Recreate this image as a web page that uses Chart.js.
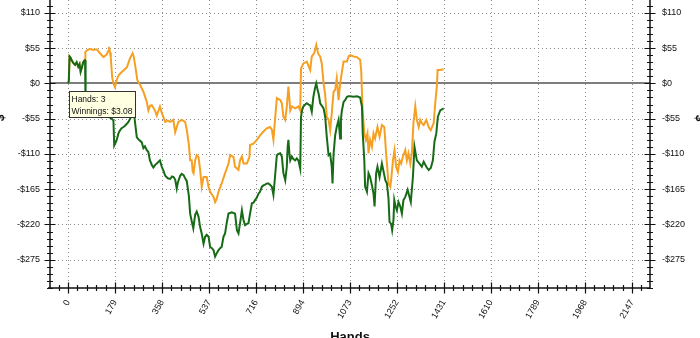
<!DOCTYPE html>
<html><head><meta charset="utf-8">
<script src="https://cdn.jsdelivr.net/npm/chart.js@4.4.1/dist/chart.umd.min.js"></script>
<style>html,body{margin:0;padding:0;background:#fff;overflow:hidden}canvas{display:block}</style>
</head><body>
<canvas id="c" width="700" height="338"></canvas>
<script>
// ---- data ----
const xTickValues = [0,179,358,537,716,894,1073,1252,1431,1610,1789,1968,2147];
const xTickLabels = ['0','179','358','537','716','894','1073','1252','1431','1610','1789','1968','2147'];
const yTickValues = [110,55,0,-55,-110,-165,-220,-275];
const xAxisTitle = 'Hands';
const tooltipHand = 3;
const tooltipWinnings = 3.08;

const greenHands = [0,3,6,10,14,20,27,33,39,44,48,53,58,63,65,66,68,80,95,110,
128,140,153,166,173,176,185,192,198,204,211,217,224,230,243,250,255,262,270,281,
287,293,300,306,312,320,325,332,338,345,350,357,365,370,380,389,396,402,408,414,
418,427,433,440,446,452,460,465,471,477,484,490,497,503,509,516,522,528,535,541,
548,554,560,566,573,579,585,592,598,604,611,617,623,630,636,643,649,655,662,668,
674,681,687,693,700,706,712,719,725,731,738,744,750,757,763,769,776,782,788,795,
801,808,814,820,827,833,836,839,843,846,852,858,865,871,877,884,887,892,896,903,
909,916,922,928,934,940,945,950,954,960,973,979,985,992,998,1004,1007,1011,1017,1023,
1030,1036,1039,1042,1049,1055,1062,1068,1074,1087,1100,1112,1119,1122,1128,1131,1138,1144,1150,1157,
1163,1167,1173,1178,1186,1195,1208,1214,1220,1224,1230,1234,1239,1242,1247,1252,1258,1265,1271,1277,
1284,1293,1300,1305,1313,1319,1328,1338,1347,1354,1364,1373,1381,1389,1395,1402,1408,1417,1430];
const greenWinnings = [0,3.08,42,40,36,32,29,33,26,30,18,25,33,36,36,-20,-45,-48,-50,-47,
-53,-50,-52,-55,-58,-97,-89,-78,-73,-70,-68,-66,-63,-60,-50,-42,-60,-84,-88,-92,
-101,-98,-104,-107,-120,-128,-131,-127,-125,-122,-120,-130,-138,-144,-148,-149,-145,-146,-150,-164,
-155,-144,-141,-143,-148,-152,-175,-203,-215,-226,-205,-200,-208,-224,-234,-250,-239,-236,-239,-255,
-257,-260,-270,-265,-260,-257,-255,-239,-234,-218,-203,-202,-201,-202,-203,-229,-234,-218,-198,-213,
-221,-219,-218,-203,-187,-186,-182,-178,-172,-169,-161,-159,-158,-156,-156,-158,-161,-174,-146,-112,
-110,-109,-114,-140,-151,-130,-100,-88,-110,-120,-114,-118,-120,-117,-120,-133,-52,-40,-36,-33,
-31,-33,-34,-44,-21,-8,0,-10,-16,-31,-39,-52,-83,-112,-110,-130,-156,-110,-81,-68,
-57,-86,-57,-44,-29,-26,-21,-20,-20,-21,-20,-22,-36,-78,-120,-161,-169,-140,-146,-159,
-172,-192,-140,-130,-146,-125,-151,-156,-179,-216,-219,-229,-213,-182,-192,-198,-185,-192,-203,-182,
-177,-166,-177,-185,-146,-99,-120,-125,-130,-122,-130,-135,-132,-120,-91,-78,-52,-42,-39];

const orangeHands = [0,3,6,10,14,20,27,33,39,44,48,53,58,63,65,66,74,84,96,109,
122,135,147,153,156,160,163,168,173,179,185,192,198,211,224,236,246,250,255,264,
274,287,300,306,312,319,331,338,350,357,370,380,389,401,408,420,433,446,452,460,
465,471,475,478,484,490,497,503,509,516,528,535,541,554,560,566,573,585,598,611,
617,623,630,636,649,655,662,668,681,691,693,706,719,731,744,757,769,776,782,788,
795,808,814,820,827,833,839,843,846,852,865,877,884,887,896,909,922,928,937,945,
950,954,960,966,973,979,985,992,998,1004,1011,1017,1023,1030,1036,1042,1049,1062,1068,1074,
1087,1100,1112,1116,1121,1128,1134,1140,1144,1150,1157,1163,1169,1178,1186,1195,1204,1211,1220,1227,
1230,1237,1243,1249,1256,1262,1268,1275,1284,1290,1296,1303,1309,1315,1322,1328,1335,1341,1347,1354,
1364,1373,1381,1392,1398,1404,1407,1417,1430];
const orangeWinnings = [0,3.08,42,40,36,32,29,33,26,30,18,25,33,36,36,49,52,54,52,53,
47,41,45,50,57,48,40,10,0,-6,5,12,15,20,25,39,47,42,30,5,
-2,-13,-29,-42,-35,-34,-42,-50,-36,-46,-60,-58,-60,-57,-76,-60,-57,-60,-72,-95,
-120,-120,-138,-140,-120,-112,-115,-135,-161,-146,-146,-161,-169,-177,-185,-180,-169,-156,-140,-125,
-112,-113,-115,-130,-135,-120,-114,-125,-125,-114,-96,-94,-88,-81,-75,-70,-68,-72,-88,-57,
-23,-26,-31,-52,-57,-36,-5,-25,-42,-36,-39,-36,-42,23,31,34,21,42,47,60,
50,45,42,31,0,-18,-52,-57,-73,-47,-13,-10,8,-26,0,16,34,34,42,44,
42,41,37,21,-36,-78,-88,-78,-109,-88,-99,-78,-86,-68,-83,-65,-68,-109,-156,-161,
-151,-120,-104,-130,-138,-120,-125,-114,-104,-120,-109,-125,-109,-62,-36,-57,-68,-57,-62,-65,
-57,-68,-73,-62,-31,-5,21,21,22];

// ---- helpers ----
const pairs = (hs, ws) => hs.map((h, i) => ({x: h, y: ws[i]})).filter(p => p.y !== undefined);
const money = v => (v < 0 ? '-$' : '$') + Math.abs(v);
const FONT = '"Liberation Sans", Arial, sans-serif';
const X_MIN = -68.5, X_MAX = 2215.5, Y_MIN = -319, Y_MAX = 130;

const decor = {
  id: 'decor',
  beforeDatasetsDraw(chart) {
    const {ctx, chartArea: a, scales: {x, y}} = chart;
    ctx.save();
    ctx.strokeStyle = '#8c8c8c'; ctx.lineWidth = 1; ctx.setLineDash([1, 3]);
    xTickValues.forEach(v => {
      const px = Math.round(x.getPixelForValue(v)) + 0.5;
      ctx.beginPath(); ctx.moveTo(px, a.top); ctx.lineTo(px, a.bottom); ctx.stroke();
    });
    yTickValues.forEach(v => {
      if (v === 0) return;
      const py = Math.round(y.getPixelForValue(v)) + 0.5;
      ctx.beginPath(); ctx.moveTo(a.left, py); ctx.lineTo(a.right, py); ctx.stroke();
    });
    ctx.setLineDash([]);
    ctx.strokeStyle = '#7d7d7d'; ctx.lineWidth = 2;
    const z = Math.round(y.getPixelForValue(0));
    ctx.beginPath(); ctx.moveTo(a.left, z); ctx.lineTo(a.right, z); ctx.stroke();
    ctx.restore();
  },
  afterDatasetsDraw(chart) {
    const {ctx, chartArea: a, scales: {x, y}} = chart;
    ctx.save();
    ctx.strokeStyle = '#111'; ctx.lineWidth = 1.5;
    ctx.beginPath();
    ctx.moveTo(a.left, a.top); ctx.lineTo(a.left, a.bottom);
    ctx.moveTo(a.right, a.top); ctx.lineTo(a.right, a.bottom);
    ctx.moveTo(a.left - 2, a.bottom); ctx.lineTo(a.right, a.bottom);
    ctx.stroke();
    ctx.lineWidth = 1.2;
    ctx.beginPath();
    for (let v = Math.ceil(Y_MIN / 11) * 11; v <= Y_MAX; v += 11) {
      const py = Math.round(y.getPixelForValue(v)) + 0.5;
      const len = (v % 55 === 0) ? 5.5 : 3;
      [a.left, a.right].forEach(ax => { ctx.moveTo(ax - len, py); ctx.lineTo(ax + len, py); });
    }
    const step = 178.92 / 5;
    for (let k = Math.ceil(X_MIN / step); k * step <= X_MAX; k++) {
      const px = Math.round(x.getPixelForValue(k * step)) + 0.5;
      const len = (k % 5 === 0) ? 5.5 : 3;
      ctx.moveTo(px, a.bottom - len); ctx.lineTo(px, a.bottom + len);
    }
    ctx.stroke();
    ctx.restore();
  },
  afterDraw(chart) {
    const {ctx, chartArea: a, scales: {x, y}} = chart;
    ctx.save();
    ctx.fillStyle = '#111';
    ctx.font = 'bold 13px ' + FONT;
    ctx.textAlign = 'center'; ctx.textBaseline = 'top';
    ctx.fillText(xAxisTitle, (a.left + a.right) / 2, 331);
    ctx.font = 'bold 12px ' + FONT;
    ctx.textBaseline = 'middle';
    ctx.save(); ctx.translate(1, 118); ctx.rotate(-Math.PI / 2); ctx.fillText('$', 0, 0); ctx.restore();
    ctx.save(); ctx.translate(699, 118); ctx.rotate(Math.PI / 2); ctx.fillText('$', 0, 0); ctx.restore();
    const px = x.getPixelForValue(tooltipHand), py = y.getPixelForValue(tooltipWinnings);
    const lines = ['Hands: ' + tooltipHand, 'Winnings: $' + tooltipWinnings.toFixed(2)];
    ctx.font = '8.5px ' + FONT;
    const w = Math.ceil(Math.max(...lines.map(l => ctx.measureText(l).width))) + 5;
    const bx = Math.round(px) + 0.5, by = Math.round(py + 10) + 0.5, h = 26;
    ctx.fillStyle = '#ffffe1'; ctx.fillRect(bx, by, w, h);
    ctx.strokeStyle = '#333'; ctx.lineWidth = 1; ctx.strokeRect(bx, by, w, h);
    ctx.fillStyle = '#111'; ctx.textAlign = 'left'; ctx.textBaseline = 'alphabetic';
    ctx.fillText(lines[0], bx + 2, by + 10);
    ctx.fillText(lines[1], bx + 2, by + 22);
    ctx.restore();
  }
};

const tickFont = {family: FONT, size: 9};
const fixY = s => { s.width = 50; s.paddingTop = 0; s.paddingBottom = 0; };
new Chart(document.getElementById('c'), {
  type: 'line',
  data: {
    datasets: [
      {data: pairs(greenHands, greenWinnings), borderColor: '#176b17', borderWidth: 2, pointRadius: 0, tension: 0, yAxisID: 'y'},
      {data: pairs(orangeHands, orangeWinnings), borderColor: '#f6a023', borderWidth: 2, pointRadius: 0, tension: 0, yAxisID: 'y'}
    ]
  },
  options: {
    responsive: false, animation: false, devicePixelRatio: 1,
    layout: {padding: 0},
    plugins: {legend: {display: false}, tooltip: {enabled: false}},
    events: [],
    scales: {
      x: {
        type: 'linear', min: X_MIN, max: X_MAX,
        grid: {display: false, drawTicks: false}, border: {display: false},
        afterBuildTicks: s => { s.ticks = xTickValues.map(v => ({value: v})); },
        afterFit: s => { s.height = 50; s.paddingLeft = 0; s.paddingRight = 0; },
        ticks: {autoSkip: false, minRotation: 60, maxRotation: 60, padding: 10, color: '#111', font: tickFont,
          callback: (v, i) => xTickLabels[i]}
      },
      y: {
        position: 'left', min: Y_MIN, max: Y_MAX,
        grid: {display: false, drawTicks: false}, border: {display: false},
        afterBuildTicks: s => { s.ticks = yTickValues.map(v => ({value: v})); },
        afterFit: fixY,
        ticks: {padding: 10, color: '#111', font: tickFont, callback: v => money(v)}
      },
      y2: {
        position: 'right', min: Y_MIN, max: Y_MAX,
        grid: {display: false, drawTicks: false}, border: {display: false},
        afterBuildTicks: s => { s.ticks = yTickValues.map(v => ({value: v})); },
        afterFit: fixY,
        ticks: {padding: 12, color: '#111', font: tickFont, callback: v => money(v)}
      }
    }
  },
  plugins: [decor]
});
</script>
</body></html>
